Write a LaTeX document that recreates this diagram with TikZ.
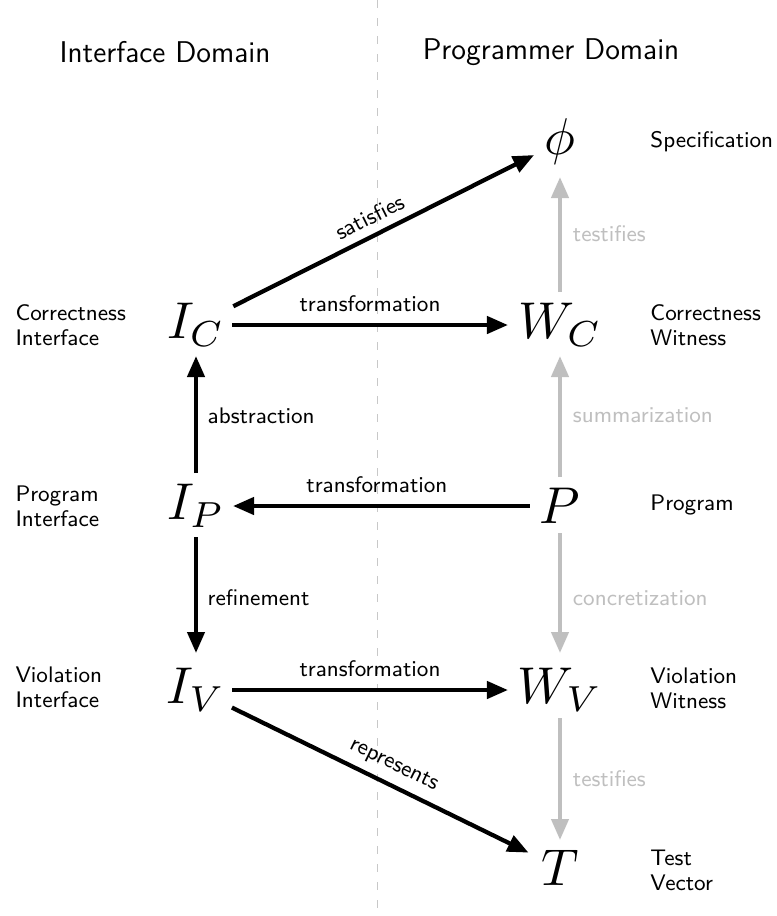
\documentclass[tikz,border=0pt]{standalone}
\usepackage{graphicx}
\usetikzlibrary{arrows.meta}
\definecolor{lightgr}{HTML}{BFBFBF}
\definecolor{dashgr}{HTML}{C8C8C8}
\newcommand\bigmath[1]{\scalebox{2.07}{$#1$}}
\begin{document}
\begin{tikzpicture}[x=0.4pt,y=-0.4pt,
  mathnode/.style={inner sep=0pt},
  lab/.style={font=\sffamily\fontsize{9}{10}\selectfont, align=left, inner sep=0pt, anchor=west},
  elab/.style={font=\sffamily\fontsize{9}{10}\selectfont},
  glab/.style={elab, text=lightgr},
  arr/.style={line width=1.7pt, -{Triangle[length=8.4pt,width=6.8pt]}},
  garr/.style={arr, draw=lightgr, -{Triangle[length=8.4pt,width=6.8pt,fill=lightgr]}},
  titlelab/.style={font=\sffamily\fontsize{12}{14}\selectfont, anchor=base, inner sep=0pt}
]
\useasboundingbox (0,0) rectangle (777,916);
\coordinate (dtop) at (377,0);
\coordinate (dbot) at (377,916);
\draw[dashgr, line width=0.4pt, dash pattern=on 3.2pt off 4pt] (dtop) -- (dbot);

\node[titlelab] (tI) at (165,62) {Interface Domain};
\node[titlelab] (tP) at (551,59) {Programmer Domain};

\node[mathnode] (phi) at (560,142) {\bigmath{\phi}};
\node[mathnode] (IC) at (196,325) {\bigmath{I_C}};
\node[mathnode] (WC) at (560,325) {\bigmath{W_C}};
\node[mathnode] (IP) at (196,506) {\bigmath{I_P}};
\node[mathnode] (P) at (560,506) {\bigmath{P}};
\node[mathnode] (IV) at (196,690) {\bigmath{I_V}};
\node[mathnode] (WV) at (560,690) {\bigmath{W_V}};
\node[mathnode] (T) at (560,868) {\bigmath{T}};

\node[lab] (lspec) at (650,142) {Specification};
\node[lab] (lwc) at (650,325) {Correctness\\Witness};
\node[lab] (lp) at (650,505) {Program};
\node[lab] (lwv) at (650,688) {Violation\\Witness};
\node[lab] (lt) at (650,870) {Test\\Vector};
\node[lab] (lic) at (15,325) {Correctness\\Interface};
\node[lab] (lip) at (15,506) {Program\\Interface};
\node[lab] (liv) at (15,687) {Violation\\Interface};

\draw[arr, shorten <=16.7pt, shorten >=11.6pt] (IC.center) -- node[elab, above, sloped, pos=0.5] {satisfies} (phi.center);
\draw[arr, shorten <=14.4pt, shorten >=20.8pt] (IC.center) -- node[elab, above, pos=0.478, yshift=1pt] {transformation} (WC.center);
\draw[arr, shorten <=12pt, shorten >=14.8pt] (P.center) -- node[elab, above, pos=0.503, yshift=1pt] {transformation} (IP.center);
\draw[arr, shorten <=14.4pt, shorten >=20.8pt] (IV.center) -- node[elab, above, pos=0.478, yshift=1pt] {transformation} (WV.center);
\draw[arr, shorten <=16pt, shorten >=14pt] (IV.center) -- node[elab, above, sloped, pos=0.52] {represents} (T.center);
\draw[arr, shorten <=13.2pt, shorten >=12.4pt] (IP.center) -- node[elab, right, xshift=0.5pt] {abstraction} (IC.center);
\draw[arr, shorten <=12.4pt, shorten >=14.8pt] (IP.center) -- node[elab, right, xshift=0.5pt] {refinement} (IV.center);

\draw[garr, shorten <=13.2pt, shorten >=14pt] (WC.center) -- node[glab, right, xshift=1pt] {testifies} (phi.center);
\draw[garr, shorten <=11.6pt, shorten >=12.4pt] (P.center) -- node[glab, right, xshift=1pt] {summarization} (WC.center);
\draw[garr, shorten <=10.8pt, shorten >=14.8pt] (P.center) -- node[glab, right, xshift=1pt] {concretization} (WV.center);
\draw[garr, shorten <=11.2pt, shorten >=11.2pt] (WV.center) -- node[glab, right, xshift=1pt] {testifies} (T.center);
\end{tikzpicture}
\end{document}
